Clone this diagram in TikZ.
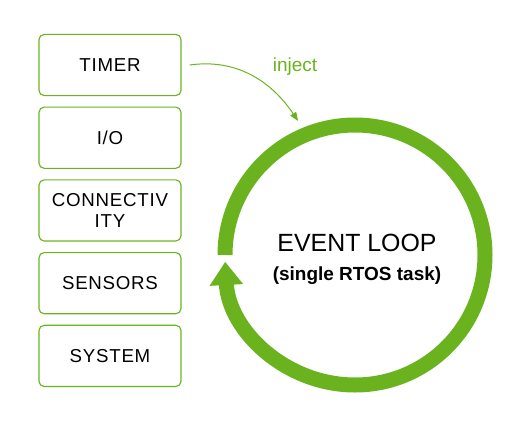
\documentclass[tikz,border=0pt]{standalone}
\usepackage{fontspec}
\setmainfont{Liberation Sans}
\newfontfamily\boxfont[LetterSpace=4]{Liberation Sans}
\usepackage{tikz}
\usetikzlibrary{arrows.meta, positioning, calc}
\definecolor{loopgreen}{RGB}{106,179,30}

\begin{document}
\begin{tikzpicture}[
  srcbox/.style={draw=loopgreen, line width=0.8pt, rounded corners=0.13cm, minimum width=3.55cm, minimum height=1.53cm, align=center, font=\boxfont\fontsize{13.3}{15.6}\selectfont},
  ring/.style={loopgreen, line width=0.375cm}
]
  \useasboundingbox (0,0) rectangle (12.9,10.525);
  \node[srcbox] (timer) at (2.75,8.9) {TIMER};
  \node[srcbox, below=0.26cm of timer] (io) {I/O};
  \node[srcbox, below=0.26cm of io] (conn) {CONNECTIV\\ITY};
  \node[srcbox, below=0.26cm of conn] (sensors) {SENSORS};
  \node[srcbox, below=0.26cm of sensors] (system) {SYSTEM};

  \coordinate (loop) at (8.875,4.15);
  \draw[ring, -{Triangle[width=0.8cm,length=0.58cm]}] ($(loop)+(180:3.25)$) arc[start angle=180, end angle=-177, radius=3.25];
  \node[font=\fontsize{17.7}{20}\selectfont, inner sep=0pt] (title) at ($(loop)+(0.05,0.31)$) {EVENT LOOP};
  \node[font=\bfseries\fontsize{13.5}{16}\selectfont, inner sep=0pt] (subtitle) at ($(loop)+(0.05,-0.51)$) {(single RTOS task)};

  \coordinate (injectend) at ($(loop)+(113:3.64)$);
  \draw[loopgreen, line width=0.7pt, -{Triangle[length=0.22cm,width=0.17cm]}] ([xshift=0.2cm]timer.east) to[out=8, in=124] (injectend);
  \node[text=loopgreen, font=\fontsize{13.5}{16}\selectfont] (injectlbl) at (7.375,8.85) {inject};
\end{tikzpicture}
\end{document}
